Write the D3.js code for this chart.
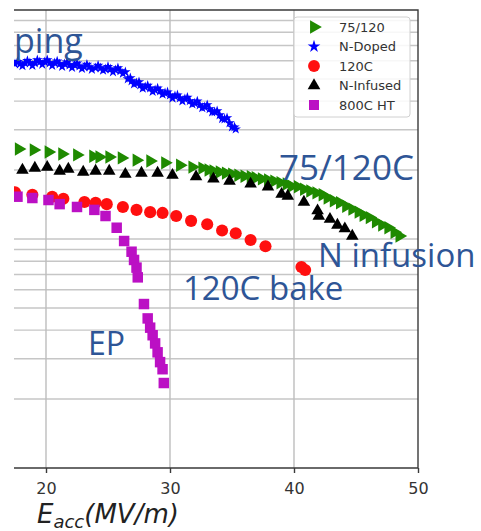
<!DOCTYPE html>
<html>
<head>
<meta charset="utf-8">
<script src="https://cdn.jsdelivr.net/npm/d3@7"></script>
<style>
  body { margin: 0; background: #fff; }
  svg { display: block; }
  .tick text { font-family: "DejaVu Sans", sans-serif; font-size: 16px; fill: #333; }
  .note { font-family: "Open Sans", sans-serif; fill: #2e5596; }
  .legend text { font-family: "DejaVu Sans", sans-serif; font-size: 13px; fill: #333; }
</style>
</head>
<body>
<div id="chart"></div>
<script>
// Q0 values are stored in units of 1e10, Eacc in MV/m

// 75/120 bake (green)
var eacc75 = [17.8, 19.0, 20.2, 21.3, 22.5, 23.8, 24.3, 25.1, 26.1, 27.3, 28.4, 29.6, 30.8, 31.8, 32.6,
  33.1, 33.5, 34.0, 34.5, 35.0, 35.5, 36.0, 36.5, 36.9, 37.4, 37.9, 38.4, 38.9, 39.4, 39.8, 40.3, 40.8,
  41.3, 41.8, 42.3, 42.7, 43.2, 43.7, 44.2, 44.7, 45.2, 45.6, 46.1, 46.6, 47.1, 47.6, 48.1, 48.5];
var q75 = [2.47, 2.45, 2.40, 2.35, 2.33, 2.30, 2.28, 2.28, 2.26, 2.21, 2.19, 2.15, 2.10, 2.06, 2.04,
  2.00, 1.98, 1.96, 1.94, 1.92, 1.90, 1.88, 1.87, 1.85, 1.83, 1.81, 1.79, 1.76, 1.74, 1.70, 1.69, 1.65,
  1.62, 1.59, 1.56, 1.51, 1.47, 1.44, 1.39, 1.35, 1.31, 1.27, 1.24, 1.19, 1.15, 1.12, 1.07, 1.03];

// N-Doped (blue)
var eaccND = [17.5, 17.7, 17.9, 18.1, 18.3, 18.5, 18.7, 18.9, 19.1, 19.3, 19.5, 19.7, 19.9, 20.1, 20.3,
  20.5, 20.7, 20.9, 21.1, 21.3, 21.5, 21.7, 21.9, 22.1, 22.3, 22.5, 22.7, 22.9, 23.1, 23.3, 23.5, 23.7,
  24.0, 24.2, 24.4, 24.6, 24.8, 25.0, 25.2, 25.4, 25.6, 25.8, 26.0, 26.2, 26.4, 26.6, 26.8, 26.9, 27.1,
  27.3, 27.5, 27.6, 27.8, 28.0, 28.2, 28.4, 28.6, 28.8, 29.0, 29.2, 29.4, 29.6, 29.8, 30.0, 30.2, 30.4,
  30.6, 30.8, 31.0, 31.2, 31.4, 31.6, 31.8, 32.0, 32.2, 32.4, 32.6, 32.8, 33.0, 33.2, 33.4, 33.6, 33.8,
  34.0, 34.2, 34.4, 34.6, 34.8, 35.0, 35.2, 35.3];
var qND = [5.81, 5.95, 5.81, 5.70, 5.87, 6.00, 5.87, 5.72, 5.87, 6.05, 5.93, 5.78, 5.93, 6.05, 5.87,
  5.72, 5.87, 5.98, 5.81, 5.66, 5.81, 5.92, 5.75, 5.60, 5.75, 5.85, 5.69, 5.55, 5.64, 5.78, 5.64, 5.50,
  5.58, 5.72, 5.58, 5.45, 5.52, 5.66, 5.52, 5.36, 5.47, 5.58, 5.42, 5.28, 5.36, 5.00, 5.05, 4.90, 4.75,
  4.80, 4.85, 4.70, 4.55, 4.61, 4.68, 4.56, 4.40, 4.47, 4.55, 4.43, 4.28, 4.34, 4.38, 4.25, 4.12, 4.21,
  4.25, 4.13, 4.00, 4.09, 4.15, 4.01, 3.88, 3.92, 4.00, 3.85, 3.74, 3.77, 3.85, 3.70, 3.58, 3.59, 3.62,
  3.48, 3.35, 3.34, 3.38, 3.21, 3.08, 3.08, 3.02];

// 120C bake (red)
var eacc120 = [17.5, 18.9, 20.5, 21.4, 23.1, 24.0, 24.9, 26.2, 27.3, 28.4, 29.4, 30.5, 31.7, 33.0,
  34.2, 35.3, 36.5, 37.7, 40.6, 40.9];
var q120 = [1.60, 1.56, 1.53, 1.50, 1.45, 1.44, 1.42, 1.38, 1.34, 1.31, 1.30, 1.26, 1.20, 1.16,
  1.09, 1.06, 0.99, 0.93, 0.755, 0.732];

// N-Infused (black)
var eaccNI = [18.1, 19.1, 20.1, 21.1, 21.8, 23.0, 24.0, 25.1, 26.4, 27.7, 29.0, 30.2, 32.1, 33.5,
  34.8, 36.5, 37.9, 39.0, 39.5, 40.8, 41.9, 42.0, 42.9, 43.5, 44.1, 44.7];
var qNI = [2.00, 2.04, 2.06, 1.98, 2.02, 1.96, 1.98, 1.98, 1.92, 1.94, 1.94, 1.90, 1.87, 1.83,
  1.79, 1.74, 1.69, 1.57, 1.54, 1.45, 1.33, 1.26, 1.22, 1.15, 1.11, 1.03];

// 800C HT / EP (magenta)
var eaccEP = [17.7, 18.9, 20.2, 21.1, 22.5, 23.9, 24.8, 25.7, 26.3, 26.9, 27.1, 27.3, 27.4, 27.9,
  28.2, 28.4, 28.6, 28.8, 29.0, 29.2, 29.4, 29.5];
var qEP = [1.53, 1.51, 1.48, 1.42, 1.38, 1.34, 1.26, 1.12, 0.98, 0.88, 0.81, 0.75, 0.68, 0.52,
  0.45, 0.41, 0.38, 0.35, 0.32, 0.29, 0.27, 0.235];

var xTicks = [20, 30, 40, 50];

var svgWidth = 481;
var svgHeight = 531;

var svg = d3.select("#chart")
  .append("svg")
  .attr("width", svgWidth)
  .attr("height", svgHeight);

// plot box (left part of the original figure is cropped off)
var box = { left: 14, right: 418, top: 10, bottom: 468 };

var xScale = d3.scaleLinear()
  .domain([20, 50])
  .range([46, 418]);

var yScale = d3.scaleLog()
  .domain([0.1, 10])
  .range([box.bottom, box.top]);

svg.append("clipPath")
  .attr("id", "plotclip")
  .append("rect")
  .attr("x", box.left)
  .attr("y", box.top)
  .attr("width", box.right - box.left)
  .attr("height", box.bottom - box.top);

// grid lines
var grid = svg.append("g");
grid.selectAll(".hgrid")
  .data(yScale.ticks().filter(d => d > 0.1 && d < 10))
  .enter()
  .append("line")
  .attr("x1", box.left)
  .attr("x2", box.right)
  .attr("y1", d => yScale(d))
  .attr("y2", d => yScale(d))
  .attr("stroke", "#c6c6c6")
  .attr("stroke-width", 1.4);

grid.selectAll(".vgrid")
  .data(xTicks.slice(0, 3))
  .enter()
  .append("line")
  .attr("x1", d => xScale(d))
  .attr("x2", d => xScale(d))
  .attr("y1", box.top)
  .attr("y2", box.bottom)
  .attr("stroke", "#bdbdbd")
  .attr("stroke-width", 1.4);

// series, drawn in the same order as the legend
var series = [
  { name: "75/120", xs: eacc75, ys: q75, color: "#1f8a00", type: d3.symbolTriangle, size: 78, rot: 90 },
  { name: "N-Doped", xs: eaccND, ys: qND, color: "#0000ff", type: d3.symbolStar, size: 34, rot: 0 },
  { name: "120C", xs: eacc120, ys: q120, color: "#ff0f0f", type: d3.symbolCircle, size: 115, rot: 0 },
  { name: "N-Infused", xs: eaccNI, ys: qNI, color: "#000000", type: d3.symbolTriangle, size: 68, rot: 0 },
  { name: "800C HT", xs: eaccEP, ys: qEP, color: "#bb10c4", type: d3.symbolSquare, size: 110, rot: 0 }
];

var plot = svg.append("g").attr("clip-path", "url(#plotclip)");

series.forEach(function(s) {
  var pts = d3.zip(s.xs, s.ys);
  plot.append("g")
    .selectAll("path")
    .data(pts)
    .enter()
    .append("path")
    .attr("d", d3.symbol().type(s.type).size(s.size))
    .attr("transform", d => `translate(${xScale(d[0])},${yScale(d[1])}) rotate(${s.rot})`)
    .attr("fill", s.color);
});

// spines
svg.append("path")
  .attr("d", `M${box.left},${box.top}H${box.right}V${box.bottom}H${box.left}`)
  .attr("fill", "none")
  .attr("stroke", "#3a3a3a")
  .attr("stroke-width", 1.4);

// x axis
var xAxis = svg.append("g")
  .attr("transform", `translate(0, ${box.bottom})`)
  .call(d3.axisBottom(xScale).tickValues(xTicks).tickSize(5).tickPadding(10));
xAxis.select(".domain").remove();
xAxis.selectAll(".tick line").attr("stroke", "#3a3a3a").attr("stroke-width", 1.4);

// x axis label E_acc(MV/m)
var xLabel = svg.append("text")
  .attr("x", 37)
  .attr("y", 523)
  .attr("font-family", "DejaVu Sans, sans-serif")
  .attr("font-style", "italic")
  .attr("font-size", 26)
  .attr("fill", "#222");
xLabel.append("tspan").text("E");
xLabel.append("tspan").attr("font-size", 18).attr("dy", 5).text("acc");
xLabel.append("tspan").attr("dy", -5).text("(MV/m)");

// legend
var legend = svg.append("g").attr("class", "legend");
legend.append("rect")
  .attr("x", 294)
  .attr("y", 17)
  .attr("width", 116)
  .attr("height", 100)
  .attr("rx", 3)
  .attr("fill", "#fff")
  .attr("fill-opacity", 0.85)
  .attr("stroke", "#d0d0d0");

var legendSizes = [80, 50, 110, 70, 100];
series.forEach(function(s, i) {
  var ly = 27 + i * 19.5;
  legend.append("path")
    .attr("d", d3.symbol().type(s.type).size(legendSizes[i]))
    .attr("transform", `translate(314, ${ly}) rotate(${s.rot})`)
    .attr("fill", s.color);
  legend.append("text")
    .attr("x", 339)
    .attr("y", ly)
    .attr("dy", "0.35em")
    .text(s.name);
});

// annotations pasted on the slide
var notes = [
  { t: "ping", x: 14, y: 53, s: 34 },
  { t: "75/120C", x: 279, y: 180, s: 35 },
  { t: "N infusion", x: 318, y: 267, s: 33 },
  { t: "120C bake", x: 183, y: 300, s: 33 },
  { t: "EP", x: 88, y: 355, s: 32 }
];
svg.selectAll(".note")
  .data(notes)
  .enter()
  .append("text")
  .classed("note", true)
  .attr("x", d => d.x)
  .attr("y", d => d.y)
  .attr("font-size", d => d.s)
  .text(d => d.t);
</script>
</body>
</html>
